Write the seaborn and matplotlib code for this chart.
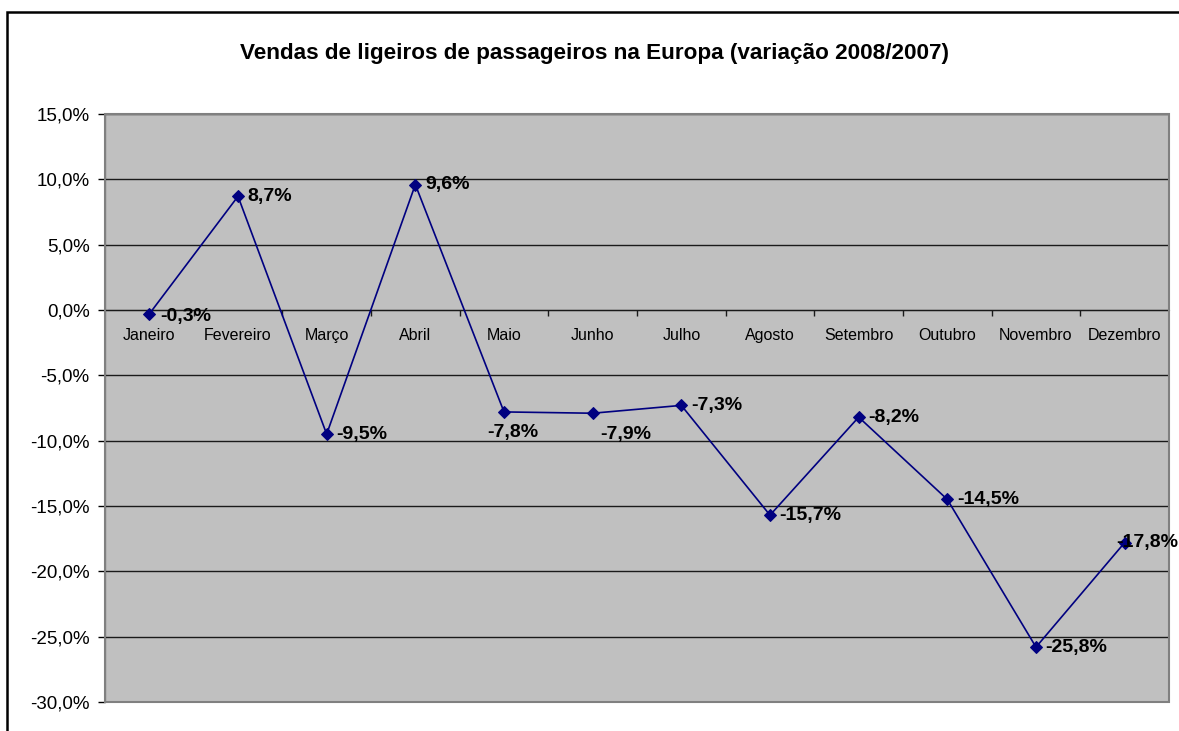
import numpy as np
import pandas as pd
import matplotlib
matplotlib.use('Agg')
import matplotlib.pyplot as plt
from matplotlib.patches import Rectangle
from matplotlib.ticker import FuncFormatter, FixedLocator
import seaborn as sns

# Dados: variação das vendas 2008/2007 (%)
meses = ['Janeiro', 'Fevereiro', 'Março', 'Abril', 'Maio', 'Junho', 'Julho',
         'Agosto', 'Setembro', 'Outubro', 'Novembro', 'Dezembro']
variacao = [-0.3, 8.7, -9.5, 9.6, -7.8, -7.9, -7.3, -15.7, -8.2, -14.5, -25.8, -17.8]
titulo = 'Vendas de ligeiros de passageiros na Europa (variação 2008/2007)'

df = pd.DataFrame({'pos': np.arange(len(meses)), 'mes': meses, 'valor': variacao})

sns.set_style('white')
plt.rcParams['font.family'] = ['Liberation Sans', 'DejaVu Sans']
plt.rcParams['text.color'] = 'black'
plt.rcParams['xtick.color'] = 'black'
plt.rcParams['ytick.color'] = 'black'
plt.rcParams['xtick.labelcolor'] = 'black'
plt.rcParams['ytick.labelcolor'] = 'black'

fig = plt.figure(figsize=(11.79, 7.31), dpi=100)
ax = fig.add_axes([105 / 1179, 1 - 702 / 731, (1169 - 105) / 1179, (702 - 114) / 731])
ax.set_facecolor('#C0C0C0')

# gridlines
for y in np.arange(-30, 16, 5):
    ax.axhline(y, color='#1a1a1a', lw=1.0, zorder=1)

sns.lineplot(data=df, x='pos', y='valor', ax=ax, color='#000080', lw=1.2,
             marker='D', markersize=6, markeredgecolor='#000080', zorder=3)

ax.set_xlim(-0.5, len(meses) - 0.5)
ax.set_ylim(-30, 15)
ax.set_xlabel('')
ax.set_ylabel('')

# y axis
ax.set_yticks(np.arange(-30, 16, 5))
ax.yaxis.set_major_formatter(FuncFormatter(lambda v, p: f'{v:.1f}%'.replace('.', ',')))
ax.tick_params(axis='y', direction='out', length=5, width=1, color='black',
               labelsize=13.5, pad=6, left=True, labelcolor='black')

# x axis crossing at zero
for s in ['top', 'right']:
    ax.spines[s].set_visible(False)
ax.spines['left'].set_color('black')
ax.spines['bottom'].set_position(('data', 0))
ax.spines['bottom'].set_color('#1a1a1a')
ax.set_xticks(df['pos'])
ax.set_xticklabels(meses)
ax.xaxis.set_minor_locator(FixedLocator(np.arange(0.5, len(meses) - 0.5, 1)))
ax.tick_params(axis='x', which='major', length=0, labelsize=11.5, pad=13,
               labelcolor='black')
ax.tick_params(axis='x', which='minor', direction='out', length=4, width=1,
               color='#1a1a1a', bottom=True)

# plot area border
ax.add_patch(Rectangle((0, 0), 1, 1, transform=ax.transAxes, fill=False,
                       edgecolor='#808080', lw=1.5, zorder=5, clip_on=False))

# data labels
label_offsets = {'Janeiro': (8, -2, 'left'), 'Maio': (6.5, -15, 'center'),
                 'Junho': (24, -15, 'center'), 'Dezembro': (-6, 0, 'left')}
for p, m, v in zip(df['pos'], meses, variacao):
    txt = f'{v:.1f}%'.replace('.', ',')
    dx, dy, ha = label_offsets.get(m, (7, 0, 'left'))
    ax.annotate(txt, xy=(p, v), xytext=(dx, dy), textcoords='offset points',
                ha=ha, va='center', fontsize=14, fontweight='bold', color='black', zorder=6)

fig.text(0.5045, 1 - 53 / 731, titulo, ha='center', va='center',
         fontsize=16.2, fontweight='bold', color='black')

# chart border
fig.patches.append(Rectangle((7 / 1179, -0.1), 1.2, 1 - 12 / 731 + 0.1,
                             transform=fig.transFigure, fill=False,
                             edgecolor='black', lw=1.8))

fig.savefig('out.png', dpi=100)
